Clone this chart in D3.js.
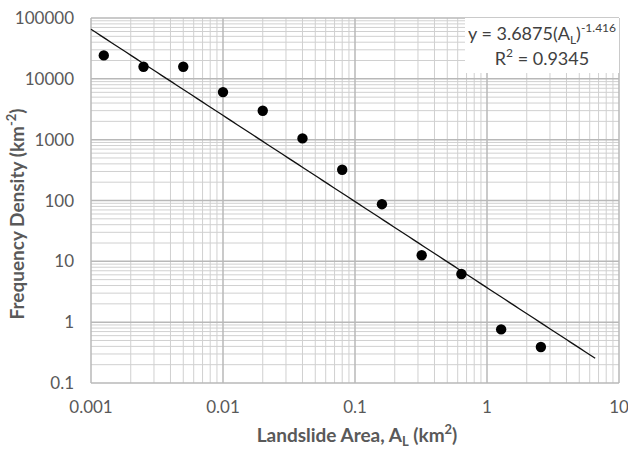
<!DOCTYPE html>
<html><head><meta charset="utf-8">
<script src="https://cdn.jsdelivr.net/npm/d3@7"></script>
<style>
body{margin:0;background:#fff;}
text{font-family:Lato, "Open Sans", sans-serif;}
</style></head>
<body><svg id="c" width="628" height="451"></svg>
<script>
const areas = [0.00125, 0.0025, 0.005, 0.01, 0.02, 0.04, 0.08, 0.16, 0.32, 0.64, 1.28, 2.56];
const densities = [24300, 15800, 15800, 6050, 2990, 1050, 320, 87, 12.6, 6.2, 0.76, 0.39];
const xTicks = [0.001, 0.01, 0.1, 1, 10];
const yTicks = [0.1, 1, 10, 100, 1000, 10000, 100000];
const fitA = 3.6875, fitB = -1.416;
const fitRange = [0.001, 6.6];

const svg = d3.select("#c");
const L = 91, R = 619, T = 18, B = 383;
const x = d3.scaleLog().domain([0.001, 10]).range([L, R]);
const y = d3.scaleLog().domain([0.1, 100000]).range([B, T]);

// minor grid
const minorX = [], minorY = [];
for (let e = -3; e < 1; e++) for (let m = 2; m <= 9; m++) minorX.push(m * Math.pow(10, e));
for (let e = -1; e < 5; e++) for (let m = 2; m <= 9; m++) minorY.push(m * Math.pow(10, e));
const g = svg.append("g");
g.selectAll(".mx").data(minorX).join("line")
  .attr("x1", d => x(d)).attr("x2", d => x(d)).attr("y1", T).attr("y2", B)
  .attr("stroke", "#d0d0d0").attr("stroke-width", 1);
g.selectAll(".my").data(minorY).join("line")
  .attr("y1", d => y(d)).attr("y2", d => y(d)).attr("x1", L).attr("x2", R)
  .attr("stroke", "#d0d0d0").attr("stroke-width", 1);
g.selectAll(".Mx").data(xTicks).join("line")
  .attr("x1", d => x(d)).attr("x2", d => x(d)).attr("y1", T).attr("y2", B)
  .attr("stroke", "#b8b8b8").attr("stroke-width", 1.5);
g.selectAll(".My").data(yTicks).join("line")
  .attr("y1", d => y(d)).attr("y2", d => y(d)).attr("x1", L).attr("x2", R)
  .attr("stroke", "#b8b8b8").attr("stroke-width", 1.5);

// axes labels
const fmt = d => String(d);
svg.append("g").selectAll("text").data(xTicks).join("text")
  .attr("x", d => x(d)).attr("y", 413).attr("text-anchor", "middle")
  .attr("font-size", 17).attr("fill", "#595959").text(fmt);
svg.append("g").selectAll("text").data(yTicks).join("text")
  .attr("x", 74).attr("y", d => y(d) + 6).attr("text-anchor", "end")
  .attr("font-size", 17).attr("fill", "#595959").text(fmt);

// fit line
const fitPts = d3.range(0, 101).map(i => {
  const lx = Math.log10(fitRange[0]) + (Math.log10(fitRange[1]) - Math.log10(fitRange[0])) * i / 100;
  const xv = Math.pow(10, lx);
  return [xv, fitA * Math.pow(xv, fitB)];
});
svg.append("path").datum(fitPts)
  .attr("d", d3.line().x(d => x(d[0])).y(d => y(d[1])))
  .attr("fill", "none").attr("stroke", "#111").attr("stroke-width", 1.3);

// points
svg.append("g").selectAll("circle").data(areas.map((a, i) => [a, densities[i]])).join("circle")
  .attr("cx", d => x(d[0])).attr("cy", d => y(d[1])).attr("r", 5.2).attr("fill", "#000");

// equation box
svg.append("rect").attr("x", 465).attr("y", T).attr("width", R - 465).attr("height", 55).attr("fill", "#fff");
const eq = svg.append("text").attr("x", 542).attr("y", 40).attr("text-anchor", "middle")
  .attr("font-size", 18).attr("fill", "#404040");
eq.append("tspan").text("y = 3.6875(A");
eq.append("tspan").attr("font-size", 12).attr("dy", 4).text("L");
eq.append("tspan").attr("dy", -4).text(")");
eq.append("tspan").attr("font-size", 12).attr("dy", -8).text("-1.416");
const r2 = svg.append("text").attr("x", 542).attr("y", 65).attr("text-anchor", "middle")
  .attr("font-size", 18).attr("fill", "#404040");
r2.append("tspan").text("R");
r2.append("tspan").attr("font-size", 12).attr("dy", -8).text("2");
r2.append("tspan").attr("dy", 8).text(" = 0.9345");

// axis titles
const xt = svg.append("text").attr("x", 357).attr("y", 442).attr("text-anchor", "middle")
  .attr("font-size", 19).attr("font-weight", "bold").attr("fill", "#595959");
xt.append("tspan").text("Landslide Area, A");
xt.append("tspan").attr("font-size", 13).attr("dy", 4).text("L");
xt.append("tspan").attr("dy", -4).text(" (km");
xt.append("tspan").attr("font-size", 13).attr("dy", -8).text("2");
xt.append("tspan").attr("dy", 8).text(")");

const yt = svg.append("text").attr("transform", "translate(24,214) rotate(-90)").attr("text-anchor", "middle")
  .attr("font-size", 19).attr("font-weight", "bold").attr("fill", "#595959");
yt.append("tspan").text("Frequency Density (km");
yt.append("tspan").attr("font-size", 13).attr("dy", -8).text("-2");
yt.append("tspan").attr("dy", 8).text(")");
</script></body></html>
